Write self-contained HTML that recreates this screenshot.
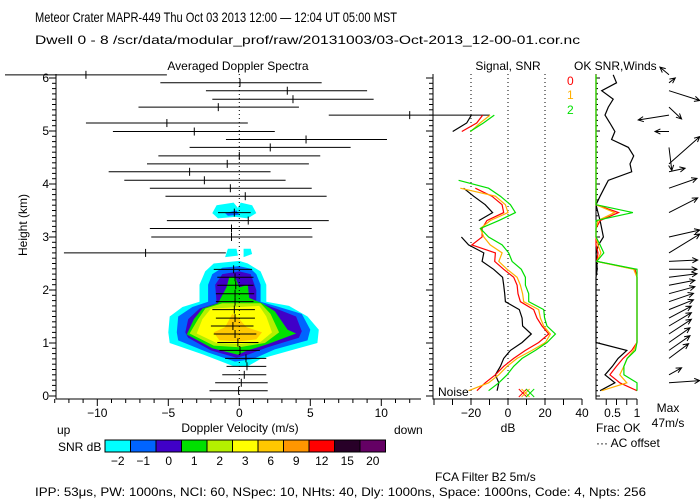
<!DOCTYPE html>
<html><head><meta charset="utf-8"><style>
body{margin:0;background:#fff}
svg{display:block;font-family:"Liberation Sans",sans-serif;font-size:12px}
</style></head><body>
<svg id="c" width="700" height="500" viewBox="0 0 700 500">
<text x="35" y="22" textLength="362" lengthAdjust="spacingAndGlyphs" font-size="14">Meteor Crater   MAPR-449   Thu Oct 03 2013 12:00 — 12:04 UT 05:00 MST</text>
<text x="35" y="44" textLength="545" lengthAdjust="spacingAndGlyphs" font-size="12">Dwell  0 -  8   /scr/data/modular_prof/raw/20131003/03-Oct-2013_12-00-01.cor.nc</text>
<text x="238" y="70" text-anchor="middle">Averaged Doppler Spectra</text>
<text x="508" y="70" text-anchor="middle">Signal, SNR</text>
<text x="574" y="70">OK SNR,Winds</text>
<text x="567" y="85" fill="#ff0000">0</text>
<text x="567" y="99" fill="#ffb000">1</text>
<text x="567" y="114" fill="#00e000">2</text>
<text x="27" y="225" text-anchor="middle" transform="rotate(-90 27 225)">Height (km)</text>
<text x="240" y="432" text-anchor="middle">Doppler Velocity (m/s)</text>
<text x="57" y="434">up</text>
<text x="394" y="434">down</text>
<text x="508" y="432" text-anchor="middle">dB</text>
<text x="596" y="432">Frac OK</text>
<text x="596" y="447">··· AC offset</text>
<text x="668" y="412" text-anchor="middle">Max</text>
<text x="668" y="427" text-anchor="middle">47m/s</text>
<text x="58" y="451">SNR dB</text>
<text x="435" y="481">FCA Filter B2   5m/s</text>
<text x="35" y="496" textLength="611" lengthAdjust="spacingAndGlyphs">IPP:  53μs,  PW: 1000ns,  NCI:  60,  NSpec: 10, NHts: 40,  Dly: 1000ns,  Space: 1000ns,  Code: 4,  Npts: 256</text>
<text x="438" y="396">Noise</text>
</svg>
<script>
const heights=[0.10,0.25,0.40,0.56,0.71,0.86,1.01,1.17,1.32,1.47,1.63,1.78,1.93,2.09,2.24,2.39,2.54,2.70,2.85,3.00,3.16,3.31,3.46,3.61,3.77,3.92,4.07,4.23,4.38,4.53,4.69,4.84,4.99,5.15,5.30,5.45,5.60,5.76,5.91,6.06];
const specCenter=[-0.05,0.14,0.35,0.54,0.47,0.05,-0.1,-0.3,-0.45,-0.3,-0.35,-0.3,-0.3,-0.25,-0.3,-0.4,null,-6.6,null,-0.55,-0.55,0.63,-0.35,null,0.42,-0.63,-2.46,-3.5,-0.85,0,2.18,4.7,-3.17,-5.1,12.0,-1.48,3.78,3.38,0.05,-10.8];
const specLeft=[-2.1,-1.7,-1.2,-0.9,-1.0,-1.4,-1.55,-1.8,-2.0,-1.65,-1.9,-1.65,-1.65,-1.55,-1.55,-1.8,null,-12.35,null,-6.2,-6.3,-5.1,-1.5,null,-5.2,-6.3,-8.1,-9.2,-6.5,-5.7,-3.5,-0.94,-8.9,-10.8,6.3,-7.1,-1.9,-2.35,-5.56,-16.5];
const specRight=[2.0,2.0,1.9,1.9,1.9,1.45,1.35,1.2,1.0,1.1,1.1,1.0,1.05,1.0,1.0,0.9,null,-0.95,null,5.15,5.1,6.3,0.8,null,6.15,5.1,3.26,2.2,4.9,5.7,7.84,10.4,2.5,0.6,17.65,4.2,9.46,9.0,5.8,-5.1];
const sigBlack=[-5.9,-5.0,-6.8,-4.1,-2.3,1.3,7.6,12.6,7.9,7.6,6.1,-1.4,-1.8,-2.3,-2.9,-7.8,-14.0,-13.1,-21.3,-25.2,null,-15.8,-8.3,-12.3,-18.6,-24.0,null,null,null,null,null,null,-29.9,-22.3,-19.8,null,null,null,null,null];
const snr0=[-16.8,-12.3,-6.8,-2.3,3.1,9.4,16.6,22.0,18.4,15.7,13.9,6.7,5.4,4.9,3.1,-2.3,-7.2,-6.8,-19.5,-14.0,-14.0,-11.4,-2.3,-3.2,-8.7,-17.7,null,null,null,null,null,null,-25,-16.9,-13.7,null,null,null,null,null];
const snr1=[-21.3,-10.5,-5.0,-0.5,4.9,13.0,20.2,22.9,19.3,17.5,16.6,8.5,7.9,6.7,4.9,-0.5,-5.0,-3.2,-9.6,-13.1,-14.9,-9.6,0.0,-1.4,-6.8,-25.8,null,null,null,null,null,null,-20.2,-15.1,-9.7,null,null,null,null,null];
const snr2=[-10.5,-5.0,-0.5,3.1,7.6,14.8,21.1,25.6,21.1,19.8,19.3,11.2,11.2,9.4,9.4,7.2,2.2,0.4,-3.2,-10.5,-14.9,-5.0,4.0,1.3,-4.1,-10.5,-26.7,null,null,null,null,null,-20.5,-13.3,-7.4,null,null,null,null,null];
const noiseDb=[8,9.5,12];
const fracBlack=[0.1,0.46,0.22,0.4,0.54,0.75,0,0,0,0,0,0,0,0,0,0.03,0.02,0,0.06,0.18,0.14,0.1,0.05,0,0.1,0.2,0.3,0.87,0.83,0.92,0.79,0.38,0.46,0.34,0.22,0.3,0.42,0.14,0.5,0.42];
const frac0=[1.0,0.58,0.34,0.5,0.66,0.87,1,1,1,1,1,1,1,1,1,0.95,0.02,0.05,0,0,0,0.1,0.55,0,0,0,0,0,0,0,0,0,0,0,0,0,0,0,0,0];
const frac1=[0.14,0.75,0.58,0.68,0.76,0.92,1,1,1,1,1,1,1,1,1,0.92,0.02,0.12,0.05,0,0,0.05,0.45,0,0,0,0,0,0,0,0,0,0,0,0,0,0,0,0,0];
const frac2=[1.0,1.0,0.68,0.68,0.76,0.96,1,1,1,1,1,1,1,1,1,1,0.02,0.19,0.1,0,0,0,0.9,0,0,0,0,0,0,0,0,0,0,0,0,0,0,0,0,0];
const windU=[null,44,18,null,28,30,30,32,32,32,35,35,37,37,40,40,41,44,null,44,null,null,41,null,null,40,null,23,44,null,4,null,-20,null,-44,18,null,44,9,-13];
const windV=[null,3,10,null,21,21,21,21,19,17,14,12,10,7,5,0,2,27,null,10,null,null,21,null,null,14,null,5,39,null,-33,null,0,null,-7,-17,null,-14,7,11];
const cbLabels=["−2","−1","0","1","2","3","6","9","12","15","20"];
const cbColors=["#00ffff","#0064ff","#4000c8","#00e000","#b4f000","#ffff00","#ffc800","#ff9600","#ff0000","#280028","#640064"];
const contourColors=["#00ffff","#0064ff","#4000c8","#00e000","#b4f000","#ffff00","#ffc800"];
const contourV=[
[-0.4,-2.5,-4.9,-5.0,-4.9,-4.0,-2.8,-2.8,-2.4,-1.8,0,0.6,1.5,1.9,1.9,3.5,4.8,5.6,5.5,3.5,1.5,0.6],
[-0.3,-2.2,-4.3,-4.4,-4.3,-3.3,-2.2,-2.2,-1.9,-1.2,0,0.8,1.2,1.5,1.5,2.8,4.4,5.0,4.8,2.5,1.0],
[-0.2,-2.0,-3.6,-3.8,-3.6,-2.8,-1.6,-1.7,-1.2,0,0.8,1.2,1.2,2.6,4.0,4.4,4.2,2.0,0.6],
[-0.1,-1.9,-3.7,-3.2,-2.6,-1.5,-0.9,-0.7,-0.3,0,0.6,0.7,1.6,2.5,3.4,4.0,2.0,0.5],
[-1.8,-3.5,-2.9,-2.4,-1.2,1.5,2.2,2.8,1.8,0],
[-1.6,-3.0,-2.6,-2.0,1.4,1.9,2.3,1.5,0],
[-1.4,-1.8,-1.0,-0.5,0,0.5,1.6,1.2,0]];
const contourH=[
[0.56,0.78,1.0,1.2,1.5,1.68,1.78,2.1,2.35,2.5,2.55,2.5,2.35,2.1,1.78,1.7,1.5,1.25,1.0,0.85,0.7,0.56],
[0.65,0.82,1.05,1.2,1.5,1.68,1.78,2.1,2.3,2.42,2.45,2.4,2.3,2.1,1.78,1.68,1.55,1.25,1.05,0.88,0.7],
[0.72,0.86,1.1,1.2,1.45,1.65,1.75,2.1,2.3,2.35,2.3,2.0,1.78,1.65,1.5,1.22,1.1,0.92,0.78],
[0.78,0.9,1.16,1.45,1.65,1.75,2.05,2.25,2.25,2.05,2.1,1.85,1.75,1.6,1.25,1.18,0.98,0.85],
[0.95,1.18,1.45,1.65,1.75,1.75,1.55,1.2,1.0,0.92],
[1.0,1.18,1.45,1.65,1.7,1.5,1.2,1.02,0.98],
[1.05,1.2,1.3,1.55,1.45,1.3,1.2,1.07,1.03]];
const blobColors=["#00ffff","#0064ff","#00ffff","#00ffff"];
const blobV=[[-1.9,-1.6,-0.4,-0.1,0.1,0.9,1.2,0.6,-0.3,-1.5],[-1.0,-0.2,0,-0.8],[-1.0,-0.8,-0.2,-0.1],[0.3,0.3,0.8,0.9]];
const blobH=[[3.45,3.6,3.65,3.55,3.65,3.6,3.45,3.35,3.38,3.35],[3.45,3.5,3.42,3.4],[2.62,2.78,2.78,2.65],[2.62,2.78,2.78,2.68]];

const xV=v=>239.3+14.2*v, yH=h=>396-53*h, xDB=d=>508+1.85*d, xF=f=>596+41*f;
const svg=document.getElementById('c'), NS='http://www.w3.org/2000/svg';
function mk(tag,attrs,parent){const e=document.createElementNS(NS,tag);for(const k in attrs)e.setAttribute(k,attrs[k]);(parent||svg).appendChild(e);return e;}
function grp(name){const g=mk('g',{});return g;}

const gc=grp('spectra-contours');
contourV.forEach((vs,k)=>{const p=vs.map((v,j)=>xV(v).toFixed(1)+','+yH(contourH[k][j]).toFixed(1)).join(' ');
 const e=mk('polygon',{points:p,fill:contourColors[k]},gc);
 
 });
blobV.forEach((vs,k)=>{const p=vs.map((v,j)=>xV(v).toFixed(1)+','+yH(blobH[k][j]).toFixed(1)).join(' ');
 const e=mk('polygon',{points:p,fill:blobColors[k]},gc);
 
 });

mk('line',{x1:xV(0),x2:xV(0),y1:74,y2:399,stroke:'#000','stroke-dasharray':'1,3'});
[-20,0,20].forEach(d=>mk('line',{x1:xDB(d),x2:xDB(d),y1:74,y2:399,stroke:'#000','stroke-dasharray':'1,3'}));

const ga=grp('axes');
mk('path',{d:'M56,74V399H421M433,74V399H582M596,74V399H637',fill:'none',stroke:'#000'},ga);
for(let k=0;k<=60;k++){const y=yH(k/10),maj=k%10===0,L=maj?7:4;
 mk('line',{x1:56-L,x2:56,y1:y,y2:y,stroke:'#000'},ga);
 mk('line',{x1:433-L,x2:433,y1:y,y2:y,stroke:'#000'},ga);
 mk('line',{x1:596,x2:596+(maj?4:2),y1:y,y2:y,stroke:'#000'},ga);
 if(maj){const t=mk('text',{x:49,y:y+4,'text-anchor':'end'},ga);t.textContent=k/10;
 
 }}
for(let v=-13;v<=12;v++){const x=xV(v),maj=v%5===0;mk('line',{x1:x,x2:x,y1:399,y2:maj?406:403,stroke:'#000'},ga);
 if(maj){const t=mk('text',{x:x,y:417,'text-anchor':'middle'},ga);t.textContent=v<0?'−'+(-v):v;
 
 }}
for(let d=-40;d<=40;d+=10){const x=xDB(d);mk('line',{x1:x,x2:x,y1:399,y2:405,stroke:'#000'},ga);
 if(d%20===0&&d>-40){const t=mk('text',{x:x,y:417,'text-anchor':'middle'},ga);t.textContent=d<0?'−'+(-d):d;
 
 }}
[0.25,0.5,0.75,1].forEach(f=>{mk('line',{x1:xF(f),x2:xF(f),y1:399,y2:405,stroke:'#000'},ga);});
[['0.5',0.5],['1',1]].forEach(([s,f])=>{const t=mk('text',{x:xF(f)-(f===1?0:4),y:417,'text-anchor':'middle'},ga);t.textContent=s;
 
 });

const gs=grp('spectra-bars');
heights.forEach((h,i)=>{if(specCenter[i]===null)return;const y=yH(h);
 const b=mk('line',{x1:xV(specLeft[i]),x2:xV(specRight[i]),y1:y,y2:y,stroke:'#000'},gs);
 
 
 const c=mk('line',{x1:xV(specCenter[i]),x2:xV(specCenter[i]),y1:y-4,y2:y+4,stroke:'#000'},gs);
 
 });

function series(arr,xf,color,name){let d='',pen=false;arr.forEach((v,i)=>{if(v===null){pen=false;return;}
 d+=(pen?'L':'M')+xf(v).toFixed(1)+','+yH(heights[i]).toFixed(1);pen=true;});
 const p=mk('path',{d:d,fill:'none',stroke:color,'stroke-width':1.2});
 
 }
series(sigBlack,xDB,'#000','signal-line');
series(snr0,xDB,'#ff0000','snr-line-0');
series(snr1,xDB,'#ffb000','snr-line-1');
series(snr2,xDB,'#00e000','snr-line-2');
series(fracBlack,xF,'#000','ac-offset-line');
series(frac0,xF,'#ff0000','frac-ok-line-0');
series(frac1,xF,'#ffb000','frac-ok-line-1');
series(frac2,xF,'#00e000','frac-ok-line-2');

['#ff0000','#ffb000','#00e000'].forEach((c,k)=>{const x=xDB(noiseDb[k]),y=393;
 const m=mk('path',{d:`M${x-4},${y-4}L${x+4},${y+4}M${x-4},${y+4}L${x+4},${y-4}`,stroke:c,fill:'none'});
 
 });

const gw=grp('wind-arrows');const ws=0.7,bx=669;
windU.forEach((u,i)=>{if(u===null)return;const y0=yH(heights[i]),x1=bx+u*ws,y1=y0-windV[i]*ws;
 const a=Math.atan2(y1-y0,x1-bx),L=6;
 const d=`M${bx},${y0.toFixed(1)}L${x1.toFixed(1)},${y1.toFixed(1)}M${(x1-L*Math.cos(a-0.45)).toFixed(1)},${(y1-L*Math.sin(a-0.45)).toFixed(1)}L${x1.toFixed(1)},${y1.toFixed(1)}L${(x1-L*Math.cos(a+0.45)).toFixed(1)},${(y1-L*Math.sin(a+0.45)).toFixed(1)}`;
 const p=mk('path',{d:d,stroke:'#000',fill:'none'},gw);
 
 });

const gb=grp('snr-colorbar');const cw=25.5;
cbColors.forEach((c,k)=>{const r=mk('rect',{x:105+k*cw,y:440,width:cw,height:12,fill:c,stroke:'#000','stroke-width':1},gb);
 
 
 const t=mk('text',{x:105+k*cw+cw/2,y:465,'text-anchor':'middle'},gb);t.textContent=cbLabels[k];
 
 });
</script>
</body></html>
